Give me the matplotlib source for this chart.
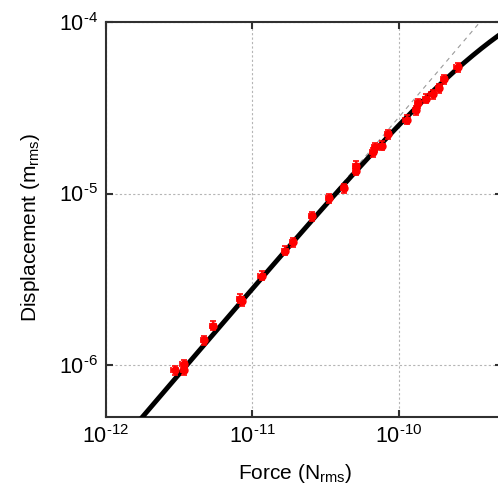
import matplotlib
matplotlib.use("Agg")
import matplotlib.pyplot as plt
from matplotlib.ticker import NullLocator, FuncFormatter
import numpy as np

plt.rcParams['font.family'] = 'Liberation Sans'
plt.rcParams['mathtext.fontset'] = 'custom'
plt.rcParams['mathtext.rm'] = 'Liberation Sans'
plt.rcParams['mathtext.it'] = 'Liberation Sans:italic'
plt.rcParams['mathtext.bf'] = 'Liberation Sans:bold'

# measured drive force (N rms) and resulting displacement (m rms)
force = [2.94e-12, 3.39e-12, 3.41e-12, 4.68e-12, 5.41e-12, 8.24e-12, 8.51e-12,
         1.156e-11, 1.673e-11, 1.906e-11, 2.57e-11, 3.34e-11, 4.25e-11,
         5.11e-11, 5.11e-11, 6.68e-11, 6.87e-11, 7.70e-11, 8.51e-11,
         1.136e-10, 1.321e-10, 1.364e-10, 1.539e-10, 1.706e-10, 1.897e-10,
         2.05e-10, 2.53e-10]
displacement = [9.33e-7, 1.014e-6, 9.37e-7, 1.396e-6, 1.70e-6, 2.44e-6, 2.35e-6,
                3.32e-6, 4.65e-6, 5.21e-6, 7.36e-6, 9.39e-6, 1.071e-5,
                1.452e-5, 1.358e-5, 1.74e-5, 1.87e-5, 1.90e-5, 2.22e-5,
                2.69e-5, 3.05e-5, 3.36e-5, 3.58e-5, 3.81e-5, 4.11e-5,
                4.64e-5, 5.46e-5]

# relative measurement uncertainty
force_err_frac = 0.05
disp_err_frac = 0.06

# spring model: stiffness at small force and softening force scale
k0 = 3.55e-6      # N/m
f_soft = 7.7e-10  # N
k_lin = 3.6e-6    # N/m, linear extrapolation

x_ticks = [1e-12, 1e-11, 1e-10]
y_ticks = [1e-6, 1e-5, 1e-4]


def model(f):
    """ displacement of a softening spring """
    return f / (k0 * (1 + f / f_soft))


def pow10_label(val, pos):
    """ 10^n with a plain hyphen for the minus sign """
    e = int(round(np.log10(val)))
    if e < 0:
        return r'$\mathregular{10^{\text{-}%d}}$' % (-e)
    return r'$\mathregular{10^{%d}}$' % e


force = np.array(force)
displacement = np.array(displacement)

fig = plt.figure(figsize=(4.98, 4.96), dpi=100)
ax = fig.add_axes([0.2129, 0.1599, 0.7942, 0.7957])

f_grid = np.logspace(-12, np.log10(5.05e-10), 400)
ax.plot(f_grid, f_grid / k_lin, color='#9a9a9a', lw=0.8, ls=(0, (4, 4)), zorder=2)
ax.plot(f_grid, model(f_grid), color='black', lw=3.5, zorder=3)
ax.errorbar(force, displacement, xerr=force * force_err_frac,
            yerr=displacement * disp_err_frac, fmt='o', color='red',
            ms=5, elinewidth=1.2, capsize=2.5, capthick=1.2, zorder=4)

ax.set_xscale('log')
ax.set_yscale('log')
ax.set_xlim(1e-12, 5.05e-10)
ax.set_ylim(5e-7, 1e-4)
ax.set_xticks(x_ticks)
ax.set_yticks(y_ticks)
ax.xaxis.set_minor_locator(NullLocator())
ax.yaxis.set_minor_locator(NullLocator())
ax.xaxis.set_major_formatter(FuncFormatter(pow10_label))
ax.yaxis.set_major_formatter(FuncFormatter(pow10_label))

ax.grid(True, color='#b5b5b5', lw=0.8, ls=(0, (2, 2)))
ax.set_axisbelow(True)
for s in ax.spines.values():
    s.set_linewidth(1.5)
    s.set_color('#303030')
ax.tick_params(which='major', direction='in', length=5, width=1.5,
               color='#303030', top=True, right=True, labelsize=15.5)
ax.tick_params(axis='x', pad=6)
ax.tick_params(axis='y', pad=6)

ax.set_xlabel(r'Force (N$_{\mathrm{rms}}$)', fontsize=15)
ax.set_ylabel(r'Displacement (m$_{\mathrm{rms}}$)', fontsize=15)
ax.xaxis.set_label_coords(0.478, -0.115)
ax.yaxis.set_label_coords(-0.162, 0.479)

fig.savefig('out.png', dpi=100)
